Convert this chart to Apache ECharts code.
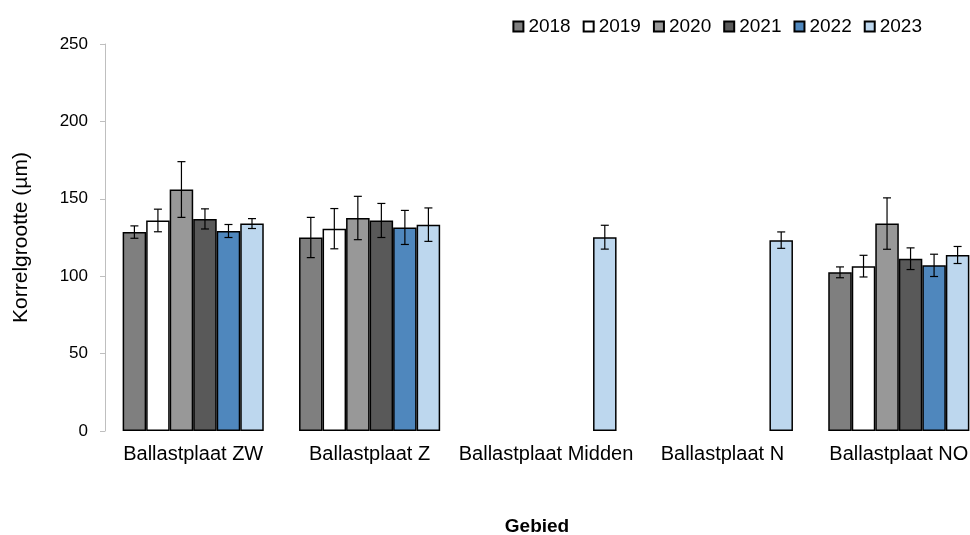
<!DOCTYPE html>
<html>
<head>
<meta charset="utf-8">
<script src="https://cdn.jsdelivr.net/npm/echarts@6/dist/echarts.min.js"></script>
<style>
  html, body { margin: 0; padding: 0; background: #ffffff; }
  #chart { width: 970px; height: 535px; }
</style>
</head>
<body>
<div id="chart"></div>
<script>
  // gebieden (x-as)
  const categories = ['Ballastplaat ZW', 'Ballastplaat Z', 'Ballastplaat Midden', 'Ballastplaat N', 'Ballastplaat NO']
  const years = ['2018', '2019', '2020', '2021', '2022', '2023']

  // gemiddelde korrelgrootte per jaar (µm)
  const v2018 = [128.5, 125, null, null, 102.5]
  const v2019 = [136, 130.7, null, null, 106.5]
  const v2020 = [156, 137.6, null, null, 134]
  const v2021 = [137, 136, null, null, 111.3]
  const v2022 = [129.2, 131.5, null, null, 107]
  const v2023 = [134, 133.3, 125.2, 123.3, 113.7]

  // foutmarges (+/-)
  const e2018 = [4, 13, null, null, 3.5]
  const e2019 = [7.3, 13, null, null, 7]
  const e2020 = [18, 14, null, null, 16.6]
  const e2021 = [6.5, 11, null, null, 7]
  const e2022 = [4.2, 11, null, null, 7.2]
  const e2023 = [3.2, 10.8, 7.7, 5.3, 5.5]

  const yTicks = [0, 50, 100, 150, 200, 250]

  const values = [v2018, v2019, v2020, v2021, v2022, v2023]
  const errors = [e2018, e2019, e2020, e2021, e2022, e2023]
  const colors = ['#7f7f7f', '#ffffff', '#989898', '#595959', '#4f87bd', '#bdd7ee']

  const FONT = "'Liberation Sans', Arial, sans-serif"
  const GAP = 0.2   // barCategoryGap

  const chart = echarts.init(document.getElementById('chart'))

  const barSeries = years.map(function (y, i) {
    return {
      name: y,
      type: 'bar',
      data: values[i],
      barGap: '0%',
      barCategoryGap: '20%',
      itemStyle: {
        color: colors[i],
        borderColor: '#000',
        borderWidth: 1.5
      },
      emphasis: { disabled: true },
      z: 2
    }
  })

  // foutbalken als custom series
  const errData = []
  years.forEach(function (y, i) {
    values[i].forEach(function (v, c) {
      if (v == null) return
      errData.push([c, v - errors[i][c], v + errors[i][c], i])
    })
  })

  const errSeries = {
    type: 'custom',
    name: 'err',
    data: errData,
    z: 5,
    silent: true,
    renderItem: function (params, api) {
      const c = api.value(0)
      const idx = api.value(3)
      const band = api.size([1, 0])[0]
      const groupW = band * (1 - GAP)
      const barW = groupW / years.length
      const base = api.coord([c, api.value(1)])
      const top = api.coord([c, api.value(2)])
      const x = base[0] - groupW / 2 + barW * (idx + 0.5)
      const half = 4
      const style = { stroke: '#000', lineWidth: 1.2 }
      return {
        type: 'group',
        children: [
          { type: 'line', shape: { x1: x, y1: base[1], x2: x, y2: top[1] }, style: style },
          { type: 'line', shape: { x1: x - half, y1: top[1], x2: x + half, y2: top[1] }, style: style },
          { type: 'line', shape: { x1: x - half, y1: base[1], x2: x + half, y2: base[1] }, style: style }
        ]
      }
    }
  }

  const option = {
    animation: false,
    backgroundColor: '#ffffff',
    textStyle: { fontFamily: FONT },
    legend: {
      data: years,
      top: 12,
      right: 43,
      itemWidth: 10,
      itemHeight: 10,
      itemGap: 12,
      icon: 'rect',
      textStyle: { fontSize: 19, color: '#000', fontFamily: FONT }
    },
    grid: {
      left: 105,
      top: 44,
      width: 882,
      height: 387,
      containLabel: false,
      outerBoundsMode: 'none'
    },
    xAxis: {
      type: 'category',
      data: categories,
      axisLine: { show: false },
      axisTick: { show: false },
      axisLabel: { fontSize: 20, color: '#000', margin: 13, interval: 0, fontFamily: FONT },
      name: 'Gebied',
      nameLocation: 'middle',
      nameGap: 86,
      nameTextStyle: { fontSize: 19, fontWeight: 'bold', color: '#000', fontFamily: FONT, padding: [0, 18, 0, 0] }
    },
    yAxis: {
      type: 'value',
      min: yTicks[0],
      max: yTicks[yTicks.length - 1],
      interval: 50,
      splitLine: { show: false },
      axisLine: { show: true, lineStyle: { color: '#bfbfbf', width: 1 } },
      axisTick: { show: true, length: 5, lineStyle: { color: '#bfbfbf' } },
      axisLabel: { fontSize: 17, color: '#000', margin: 17, fontFamily: FONT },
      name: 'Korrelgrootte (µm)',
      nameLocation: 'middle',
      nameGap: 73,
      nameTextStyle: { fontSize: 21, color: '#000', fontFamily: FONT }
    },
    series: barSeries.concat([errSeries])
  }

  chart.setOption(option)
</script>
</body>
</html>
